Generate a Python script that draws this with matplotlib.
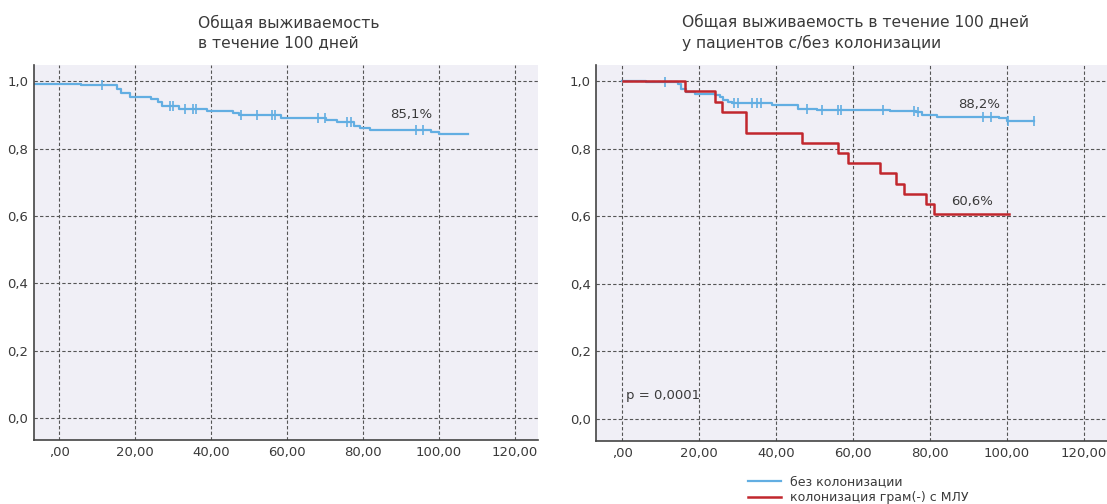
import numpy as np
import matplotlib.pyplot as plt

# оси
x_ticks = [0, 20, 40, 60, 80, 100, 120]
x_labels = [',00', '20,00', '40,00', '60,00', '80,00', '100,00', '120,00']
y_ticks = [0.0, 0.2, 0.4, 0.6, 0.8, 1.0]
y_labels = ['0,0', '0,2', '0,4', '0,6', '0,8', '1,0']

# общая выживаемость (время, доля)
all_t = [-6.6, 5.8, 15.3, 16.3, 18.6, 24.1, 26.0, 27.1, 31.5, 38.9, 45.8, 47.2,
         58.3, 70.3, 73.1, 77.7, 79.1, 81.8, 98.0, 100.0, 107.7]
all_s = [0.992, 0.988, 0.976, 0.966, 0.953, 0.948, 0.939, 0.927, 0.917, 0.912, 0.905, 0.901,
         0.890, 0.885, 0.880, 0.868, 0.861, 0.855, 0.850, 0.843, 0.843]
all_cens = [11.2, 29.2, 29.9, 33.2, 35.2, 36.1, 47.9, 52.1, 56.0, 56.9,
            68.0, 70.1, 75.8, 76.8, 94.0, 95.9]

# без колонизации
no_t = [0.0, 6.1, 14.5, 15.4, 16.5, 19.0, 24.0, 25.3, 26.2, 27.6, 28.5, 38.9, 45.8,
        50.6, 69.6, 76.4, 77.8, 81.8, 97.8, 100.1, 107.1]
no_s = [1.0, 0.997, 0.993, 0.977, 0.969, 0.963, 0.958, 0.952, 0.945, 0.938, 0.935, 0.931, 0.919,
        0.915, 0.912, 0.908, 0.900, 0.895, 0.890, 0.882, 0.882]
no_cens = [11.0, 29.1, 30.1, 33.7, 35.0, 36.0, 47.9, 52.0, 56.1, 56.8,
           67.8, 75.9, 76.9, 93.9, 95.8, 100.2, 107.1]

# колонизация грам(-) с МЛУ
col_t = [0.2, 16.3, 24.0, 26.0, 32.1, 46.8, 56.1, 58.6, 67.1, 71.2, 73.3, 78.9, 81.0, 100.6]
col_s = [1.0, 0.970, 0.939, 0.909, 0.848, 0.818, 0.788, 0.758, 0.727, 0.697, 0.667, 0.636, 0.606, 0.606]

blue = '#62aee2'
red = '#c1272d'
txt = '#3a3a3a'
bg = '#f0eff6'


def surv_at(t, times, surv):
    i = np.searchsorted(times, t, side='right') - 1
    return np.array(surv)[np.clip(i, 0, len(surv) - 1)]


def style(ax):
    ax.set_facecolor(bg)
    ax.set_xlim(-6.7, 126)
    ax.set_ylim(-0.066, 1.049)
    ax.set_xticks(x_ticks)
    ax.set_xticklabels(x_labels)
    ax.set_yticks(y_ticks)
    ax.set_yticklabels(y_labels)
    ax.tick_params(length=0, labelsize=9.5, labelcolor=txt, pad=4)
    ax.grid(True, color='#555555', linestyle=(0, (3, 2)), linewidth=0.8)
    ax.set_axisbelow(True)
    for s in ['top', 'right']:
        ax.spines[s].set_visible(False)
    for s in ['left', 'bottom']:
        ax.spines[s].set_color('#444444')
        ax.spines[s].set_linewidth(1.2)


def km(ax, times, surv, cens, color, lw):
    line, = ax.step(times, surv, where='post', color=color, linewidth=lw)
    if cens:
        ax.plot(cens, surv_at(cens, times, surv), linestyle='none', marker='|',
                markersize=7, markeredgewidth=1.2, color=color)
    return line


fig = plt.figure(figsize=(11.07, 5.04), dpi=100)
ax1 = fig.add_axes([0.0307, 0.1264, 0.455, 0.7452])
ax2 = fig.add_axes([0.5388, 0.125, 0.4612, 0.7466])
style(ax1)
style(ax2)

km(ax1, all_t, all_s, all_cens, blue, 1.6)
ax1.text(92.8, 0.90, '85,1%', ha='center', va='center', fontsize=9.5, color=txt)

l1 = km(ax2, no_t, no_s, no_cens, blue, 1.6)
l2 = km(ax2, col_t, col_s, [], red, 1.8)
ax2.text(92.8, 0.930, '88,2%', ha='center', va='center', fontsize=9.5, color=txt)
ax2.text(90.8, 0.644, '60,6%', ha='center', va='center', fontsize=9.5, color=txt)
ax2.text(1.1, 0.069, 'p = 0,0001', ha='left', va='center', fontsize=9.5, color=txt)

fig.text(198 / 1107, 1 - 33 / 504, 'Общая выживаемость\nв течение 100 дней',
         ha='left', va='center', fontsize=11.2, color=txt, linespacing=1.35)
fig.text(682 / 1107, 1 - 33 / 504, 'Общая выживаемость в течение 100 дней\nу пациентов с/без колонизации',
         ha='left', va='center', fontsize=11.2, color=txt, linespacing=1.35)

fig.legend([l1, l2], ['без колонизации', 'колонизация грам(-) с МЛУ'],
           loc='center left', bbox_to_anchor=(742 / 1107, 1 - 490 / 504),
           frameon=False, fontsize=9, handlelength=2.6, labelspacing=0.2,
           handletextpad=0.7, borderpad=0, labelcolor=txt)

fig.savefig('out.png', dpi=100)
